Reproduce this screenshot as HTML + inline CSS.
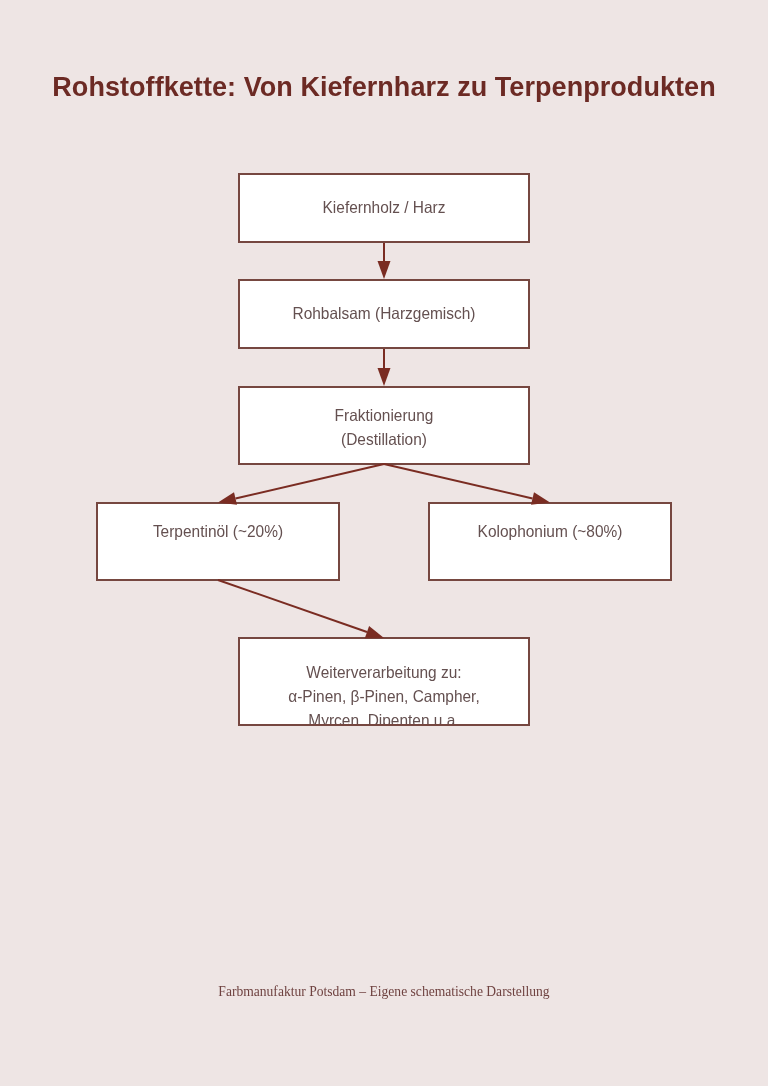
<!DOCTYPE html>
<html><head><meta charset="utf-8">
<style>
html,body{margin:0;padding:0}
.aa{-webkit-font-smoothing:antialiased;transform:translateZ(0)}
body{width:768px;height:1086px;background:#eee5e4;position:relative;overflow:hidden;font-family:"Liberation Sans",sans-serif}
.t{position:absolute;left:0;width:768px;text-align:center;white-space:nowrap}
#title{top:72.2px;font-weight:bold;font-size:27px;line-height:30px;color:#6c2a24;letter-spacing:0.06px}
.box{position:absolute;background:#fff;box-sizing:border-box;overflow:hidden}
.bd{position:absolute;box-sizing:border-box;border:2px solid #764740}
.bt{position:absolute;left:0;right:0;text-align:center;font-size:16.5px;line-height:24px;color:#645050;white-space:nowrap;transform:scaleX(0.937)}
#foot{top:980.5px;font-family:"Liberation Serif",serif;font-size:14.5px;line-height:20px;color:#6f4240;transform:scaleX(0.936)}
svg{position:absolute;left:0;top:0}
</style></head><body class="aa">
<div id="title" class="t">Rohstoffkette: Von Kiefernharz zu Terpenprodukten</div>

<div class="box" style="left:238px;top:173px;width:292px;height:70px"><div class="bt" style="top:21.5px">Kiefernholz / Harz</div></div>
<div class="bd" style="left:238px;top:173px;width:292px;height:70px"></div>

<div class="box" style="left:238px;top:279px;width:292px;height:70px"><div class="bt" style="top:22.4px">Rohbalsam (Harzgemisch)</div></div>
<div class="bd" style="left:238px;top:279px;width:292px;height:70px"></div>

<div class="box" style="left:238px;top:386px;width:292px;height:79px"><div class="bt" style="top:16.8px">Fraktionierung<br>(Destillation)</div></div>
<div class="bd" style="left:238px;top:386px;width:292px;height:79px"></div>

<div class="box" style="left:96px;top:502px;width:244px;height:79px"><div class="bt" style="top:16.5px">Terpentinöl (~20%)</div></div>
<div class="bd" style="left:96px;top:502px;width:244px;height:79px"></div>

<div class="box" style="left:428px;top:502px;width:244px;height:79px"><div class="bt" style="top:16.7px">Kolophonium (~80%)</div></div>
<div class="bd" style="left:428px;top:502px;width:244px;height:79px"></div>

<div class="box" style="left:238px;top:637px;width:292px;height:87px"><div class="bt" style="top:22.5px;line-height:24.4px">Weiterverarbeitung zu:<br>α-Pinen, β-Pinen, Campher,<br>Myrcen, Dipenten u.a.</div></div>
<div class="bd" style="left:238px;top:637px;width:292px;height:89px"></div>

<svg width="768" height="1086" viewBox="0 0 768 1086">
<g stroke="#7a2c22" stroke-width="2" fill="none">
<line x1="384" y1="243" x2="384" y2="262"/>
<line x1="384" y1="349" x2="384" y2="369"/>
<line x1="384" y1="464" x2="235.5" y2="498.5"/>
<line x1="384" y1="464" x2="532.5" y2="498.5"/>
<line x1="218" y1="580" x2="367" y2="632"/>
</g>
<g fill="#7a2c22">
<polygon points="377.5,261 390.5,261 384,279"/>
<polygon points="377.5,368 390.5,368 384,386"/>
<polygon points="218,502.5 234,492.2 237,504.8"/>
<polygon points="550,502.5 534,492.2 531,504.8"/>
<polygon points="384,638 369.1,625.9 364.8,638.2"/>
</g>
</svg>

<div id="foot" class="t">Farbmanufaktur Potsdam – Eigene schematische Darstellung</div>
</body></html>
